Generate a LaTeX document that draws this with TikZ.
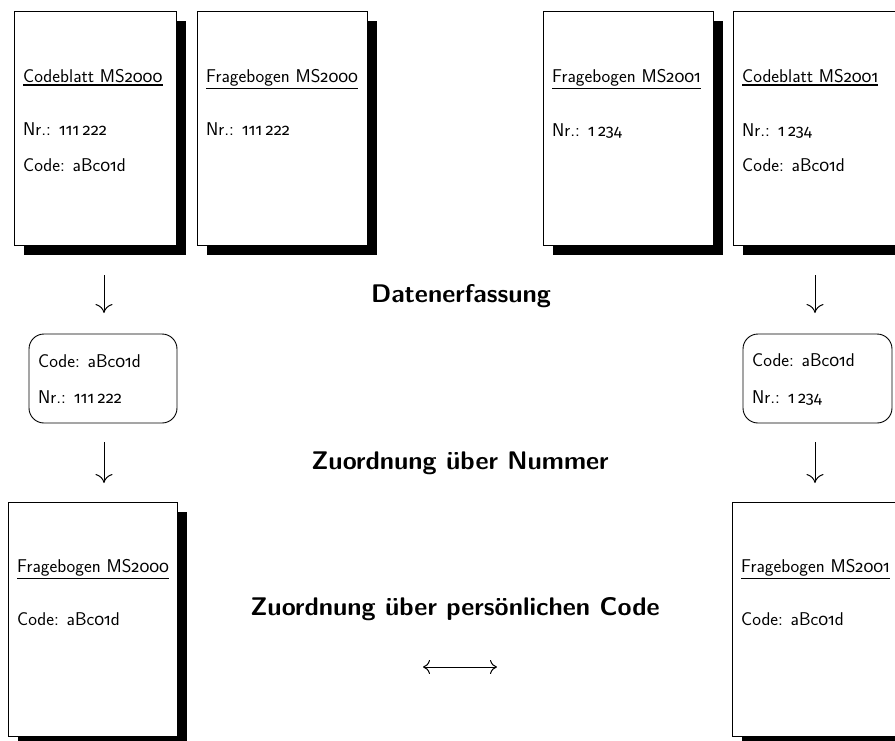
\documentclass[tikz,border=0pt]{standalone}
\usepackage{fontspec}
\newfontfamily\osf[Numbers=OldStyle,Scale=0.88]{Fira Sans}
\newcommand\os[1]{{\osf #1}}
\newcommand\tsp{\hspace{0.22em}}
\usetikzlibrary{shadows,arrows.meta}
\begin{document}
\begin{tikzpicture}[x=1pt,y=-1pt,
  font=\sffamily,
  page/.style={draw, line width=0.9pt, fill=white, minimum height=234pt,
    drop shadow={shadow xshift=10pt, shadow yshift=-10pt, fill=black, opacity=1}},
  ttl/.style={anchor=base west, inner sep=0pt, font=\sffamily\fontsize{18.5}{22}\selectfont},
  txt/.style={anchor=base west, inner sep=0pt, font=\sffamily\fontsize{18.5}{22}\selectfont},
  rbox/.style={draw, line width=0.9pt, rounded corners=15pt, minimum height=89pt},
  lbl/.style={anchor=base, inner sep=0pt, font=\sffamily\bfseries\fontsize{25.5}{30}\selectfont},
  uline/.style={line width=1.4pt},
  flow/.style={line width=1pt, -{To[length=9pt,width=17pt]}},
]
\useasboundingbox (0,0) rectangle (895,740);
\fill[white] (0,0) rectangle (895,740);

% top pages
\node[page, minimum width=162pt] (p1) at (95,128) {};
\node[page, minimum width=170pt] (p2) at (282,128) {};
\node[page, minimum width=170pt] (p3) at (628,128) {};
\node[page, minimum width=170pt] (p4) at (818,128) {};

\node[ttl] (t1) at (23,82) {Codeblatt MS\os{2000}};
\draw[uline] ([yshift=-2.5pt]t1.south west) -- ([yshift=-2.5pt]t1.south east);
\node[txt] (n1) at (23,135) {Nr.: \os{111\tsp222}};
\node[txt] (c1) at (23,171) {Code: aBc\os{01}d};

\node[ttl] (t2) at (206,82) {Fragebogen MS\os{2000}};
\draw[uline] ([yshift=-2.5pt]t2.south west) -- ([yshift=-2.5pt]t2.south east);
\node[txt] (n2) at (206,135) {Nr.: \os{111\tsp222}};

\node[ttl] (t3) at (552,82) {Fragebogen MS\os{2001}};
\draw[uline] ([yshift=-2.5pt]t3.south west) -- ([yshift=-2.5pt]t3.south east);
\node[txt] (n3) at (552,136) {Nr.: \os{1\tsp234}};

\node[ttl] (t4) at (742,82) {Codeblatt MS\os{2001}};
\draw[uline] ([yshift=-2.5pt]t4.south west) -- ([yshift=-2.5pt]t4.south east);
\node[txt] (n4) at (742,136) {Nr.: \os{1\tsp234}};
\node[txt] (c4) at (742,171) {Code: aBc\os{01}d};

% middle rounded boxes
\node[rbox, minimum width=148pt] (r1) at (103,378.5) {};
\node[txt] (rc1) at (38,367) {Code: aBc\os{01}d};
\node[txt] (rn1) at (38,403) {Nr.: \os{111\tsp222}};

\node[rbox, minimum width=149pt] (r2) at (817.5,378.5) {};
\node[txt] (rc2) at (752,366) {Code: aBc\os{01}d};
\node[txt] (rn2) at (752,403) {Nr.: \os{1\tsp234}};

% bottom pages
\node[page, minimum width=169pt] (p5) at (92.5,619) {};
\node[page, minimum width=170pt] (p6) at (817,619) {};

\node[ttl] (t5) at (17,572) {Fragebogen MS\os{2000}};
\draw[uline] ([yshift=-2.5pt]t5.south west) -- ([yshift=-2.5pt]t5.south east);
\node[txt] (c5) at (17,625) {Code: aBc\os{01}d};

\node[ttl] (t6) at (741,572) {Fragebogen MS\os{2001}};
\draw[uline] ([yshift=-2.5pt]t6.south west) -- ([yshift=-2.5pt]t6.south east);
\node[txt] (c6) at (741,625) {Code: aBc\os{01}d};

% labels
\node[lbl] (l1) at (461,302) {Datenerfassung};
\node[lbl] (l2) at (460,469) {Zuordnung über Nummer};
\node[lbl] (l3) at (455,615) {Zuordnung über persönlichen Code};

% arrows
\coordinate (a1s) at (104,275); \coordinate (a1e) at (104,313);
\coordinate (a2s) at (104,442); \coordinate (a2e) at (104,483);
\coordinate (a3s) at (815,275); \coordinate (a3e) at (815,313);
\coordinate (a4s) at (815,442); \coordinate (a4e) at (815,483);
\coordinate (d1) at (423,667); \coordinate (d2) at (497,667);
\draw[flow] (a1s) -- (a1e);
\draw[flow] (a2s) -- (a2e);
\draw[flow] (a3s) -- (a3e);
\draw[flow] (a4s) -- (a4e);
\draw[line width=1pt, {To[length=7pt,width=14pt]}-{To[length=7pt,width=14pt]}] (d1) -- (d2);
\end{tikzpicture}
\end{document}
